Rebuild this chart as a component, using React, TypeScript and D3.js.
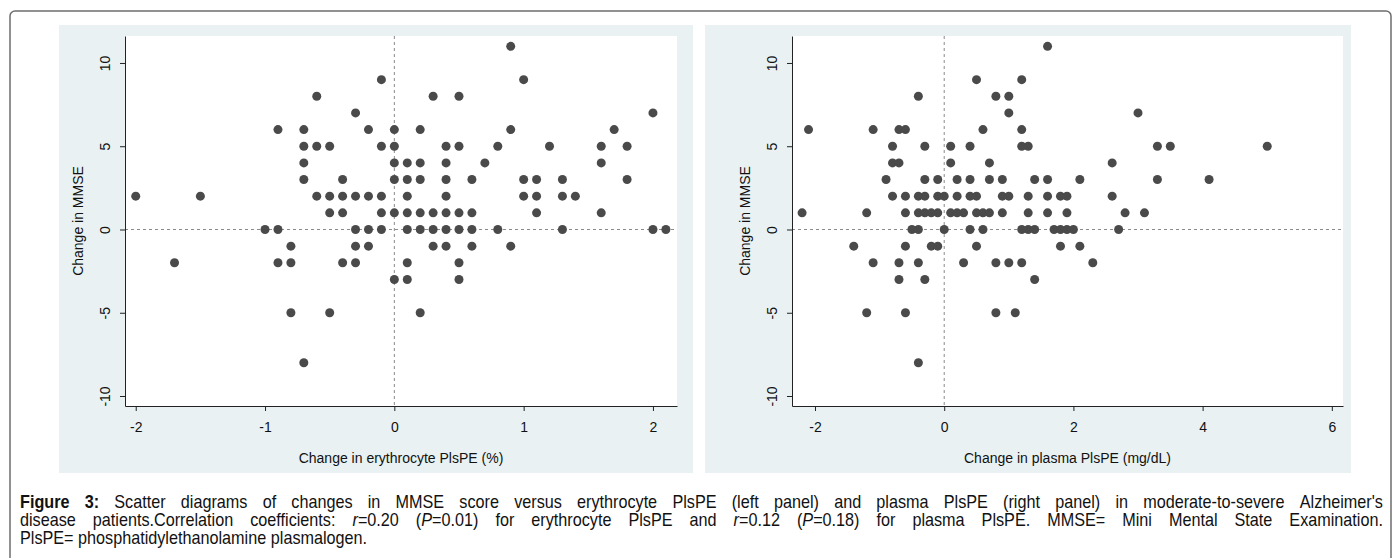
import React, { useEffect, useRef } from "react";
import * as d3 from "d3";

// tick values
const mmseTicks = [-10, -5, 0, 5, 10];
const erythroTicks = [-2, -1, 0, 1, 2];
const plasmaTicks = [-2, 0, 2, 4, 6];

// axis titles
const mmseTitle = "Change in MMSE";
const erythroTitle = "Change in erythrocyte PlsPE (%)";
const plasmaTitle = "Change in plasma PlsPE (mg/dL)";

// [change in erythrocyte PlsPE (%), change in MMSE]
const erythroPoints: [number, number][] = [
  [0.9, 11],
  [-0.1, 9], [1.0, 9],
  [-0.6, 8], [0.3, 8], [0.5, 8],
  [-0.3, 7], [2.0, 7],
  [-0.9, 6], [-0.7, 6], [-0.2, 6], [0.0, 6], [0.2, 6], [0.9, 6], [1.7, 6],
  [-0.7, 5], [-0.6, 5], [-0.5, 5], [-0.1, 5], [0.0, 5], [0.4, 5], [0.5, 5], [0.8, 5], [1.2, 5], [1.6, 5], [1.8, 5],
  [-0.7, 4], [0.0, 4], [0.1, 4], [0.2, 4], [0.4, 4], [0.7, 4], [1.6, 4],
  [-0.7, 3], [-0.4, 3], [0.0, 3], [0.1, 3], [0.2, 3], [0.4, 3], [0.6, 3], [1.0, 3], [1.1, 3], [1.3, 3], [1.8, 3],
  [-2.0, 2], [-1.5, 2], [-0.6, 2], [-0.5, 2], [-0.4, 2], [-0.3, 2], [-0.2, 2], [-0.1, 2], [0.1, 2], [0.4, 2], [1.0, 2], [1.1, 2], [1.3, 2], [1.4, 2],
  [-0.5, 1], [-0.4, 1], [-0.1, 1], [0.0, 1], [0.1, 1], [0.2, 1], [0.3, 1], [0.4, 1], [0.5, 1], [0.6, 1], [1.1, 1], [1.6, 1],
  [-1.0, 0], [-0.9, 0], [-0.3, 0], [-0.2, 0], [-0.1, 0], [0.1, 0], [0.2, 0], [0.3, 0], [0.4, 0], [0.5, 0], [0.6, 0], [0.8, 0], [1.3, 0], [2.0, 0], [2.1, 0],
  [-0.8, -1], [-0.3, -1], [-0.2, -1], [0.3, -1], [0.4, -1], [0.6, -1], [0.9, -1],
  [-1.7, -2], [-0.9, -2], [-0.8, -2], [-0.4, -2], [-0.3, -2], [0.1, -2], [0.5, -2],
  [0.0, -3], [0.1, -3], [0.5, -3],
  [-0.8, -5], [-0.5, -5], [0.2, -5],
  [-0.7, -8],
];

// [change in plasma PlsPE (mg/dL), change in MMSE]
const plasmaPoints: [number, number][] = [
  [1.6, 11],
  [0.5, 9], [1.2, 9],
  [-0.4, 8], [0.8, 8], [1.0, 8],
  [1.0, 7], [3.0, 7],
  [-2.1, 6], [-1.1, 6], [-0.7, 6], [-0.6, 6], [0.6, 6], [1.2, 6],
  [-0.8, 5], [-0.3, 5], [0.1, 5], [0.4, 5], [1.2, 5], [1.3, 5], [3.3, 5], [3.5, 5], [5.0, 5],
  [-0.8, 4], [-0.7, 4], [0.1, 4], [0.7, 4], [2.6, 4],
  [-0.9, 3], [-0.3, 3], [-0.1, 3], [0.2, 3], [0.4, 3], [0.7, 3], [0.9, 3], [1.4, 3], [1.6, 3], [2.1, 3], [3.3, 3], [4.1, 3],
  [-0.8, 2], [-0.6, 2], [-0.4, 2], [-0.3, 2], [-0.1, 2], [0.0, 2], [0.2, 2], [0.4, 2], [0.5, 2], [0.9, 2], [1.0, 2], [1.3, 2], [1.6, 2], [1.8, 2], [1.9, 2], [2.6, 2],
  [-2.2, 1], [-1.2, 1], [-0.6, 1], [-0.4, 1], [-0.3, 1], [-0.2, 1], [-0.1, 1], [0.1, 1], [0.2, 1], [0.3, 1], [0.5, 1], [0.6, 1], [0.7, 1], [0.9, 1], [1.3, 1], [1.6, 1], [1.9, 1], [2.8, 1], [3.1, 1],
  [-0.5, 0], [-0.4, 0], [0.0, 0], [0.4, 0], [0.6, 0], [1.2, 0], [1.3, 0], [1.4, 0], [1.7, 0], [1.8, 0], [1.9, 0], [2.0, 0], [2.7, 0],
  [-1.4, -1], [-0.6, -1], [-0.2, -1], [-0.1, -1], [0.5, -1], [1.8, -1], [2.1, -1],
  [-1.1, -2], [-0.7, -2], [-0.4, -2], [0.3, -2], [0.8, -2], [1.0, -2], [1.2, -2], [2.3, -2],
  [-0.7, -3], [-0.3, -3], [1.4, -3],
  [-1.2, -5], [-0.6, -5], [0.8, -5], [1.1, -5],
  [-0.4, -8],
];

// caption: **bold**, _italic_
const captionLines = [
  "**Figure** **3:** Scatter diagrams of changes in MMSE score versus erythrocyte PlsPE (left panel) and plasma PlsPE (right panel) in moderate-to-severe Alzheimer's",
  "disease patients.Correlation coefficients: _r_=0.20 (_P_=0.01) for erythrocyte PlsPE and _r_=0.12 (_P_=0.18) for plasma PlsPE. MMSE= Mini Mental State Examination.",
  "PlsPE= phosphatidylethanolamine plasmalogen.",
];

const W = 1398, H = 558;
const axisFont = "'Liberation Sans', Arial, Helvetica, sans-serif";
const captionFont = "'Liberation Sans', Arial, sans-serif";
const narrow = 0.9; // caption set in a slightly condensed face

function App() {
  const ref = useRef<SVGSVGElement>(null);

  useEffect(() => {
    const svg = d3.select(ref.current);
    svg.selectAll("*").remove();

    // outer frame
    svg.append("rect")
      .attr("x", 10).attr("y", 11)
      .attr("width", 1381).attr("height", 600)
      .attr("rx", 5)
      .attr("fill", "white")
      .attr("stroke", "#6e6e6e")
      .attr("stroke-width", 1.5);

    const panels = [
      { bg: [59, 693], plot: [125, 677], xDomain: [-2.083, 2.186], xTicks: erythroTicks, title: erythroTitle, points: erythroPoints },
      { bg: [705, 1351], plot: [792, 1343], xDomain: [-2.356, 6.173], xTicks: plasmaTicks, title: plasmaTitle, points: plasmaPoints },
    ];
    const bgTop = 25, bgBottom = 473, plotTop = 36, plotBottom = 406;

    panels.forEach((p) => {
      const g = svg.append("g");

      // graph region + plot region
      g.append("rect")
        .attr("x", p.bg[0]).attr("y", bgTop)
        .attr("width", p.bg[1] - p.bg[0]).attr("height", bgBottom - bgTop)
        .attr("fill", "#e9f1f3");
      g.append("rect")
        .attr("x", p.plot[0]).attr("y", plotTop)
        .attr("width", p.plot[1] - p.plot[0]).attr("height", plotBottom - plotTop)
        .attr("fill", "white");

      const x = d3.scaleLinear().domain(p.xDomain).range(p.plot);
      const y = d3.scaleLinear().domain([-10.6, 11.62]).range([plotBottom, plotTop]);

      // reference lines at zero
      g.append("line")
        .attr("x1", p.plot[0]).attr("x2", p.plot[1])
        .attr("y1", y(0)).attr("y2", y(0))
        .attr("stroke", "#8a8a8a").attr("stroke-dasharray", "3,3");
      g.append("line")
        .attr("x1", x(0)).attr("x2", x(0))
        .attr("y1", plotTop).attr("y2", plotBottom)
        .attr("stroke", "#8a8a8a").attr("stroke-dasharray", "3,3");

      // points
      g.selectAll("circle")
        .data(p.points)
        .join("circle")
        .attr("cx", (d) => x(d[0]))
        .attr("cy", (d) => y(d[1]))
        .attr("r", 4.5)
        .attr("fill", "#4a4a4a");

      // x axis
      const xg = g.append("g")
        .attr("transform", `translate(0,${plotBottom})`)
        .call(d3.axisBottom(x).tickValues(p.xTicks).tickSize(5).tickSizeOuter(0).tickFormat(d3.format("d")));
      xg.select(".domain").attr("stroke", "#222");
      xg.selectAll(".tick line").attr("stroke", "#222");
      xg.selectAll(".tick text")
        .attr("y", 26).attr("dy", 0)
        .attr("font-family", axisFont).attr("font-size", 14).attr("fill", "#111")
        .text((d: any) => String(d).replace("−", "-"));

      // y axis
      const yg = g.append("g")
        .attr("transform", `translate(${p.plot[0]},0)`)
        .call(d3.axisLeft(y).tickValues(mmseTicks).tickSize(5).tickSizeOuter(0).tickFormat(d3.format("d")));
      yg.select(".domain").attr("stroke", "#222");
      yg.selectAll(".tick line").attr("stroke", "#222");
      yg.selectAll(".tick text")
        .attr("x", 0).attr("dy", 0)
        .attr("transform", "translate(-15,0) rotate(-90)")
        .attr("text-anchor", "middle")
        .attr("font-family", axisFont).attr("font-size", 14).attr("fill", "#111")
        .text((d: any) => String(d).replace("−", "-"));

      // axis titles
      g.append("text")
        .attr("x", (p.plot[0] + p.plot[1]) / 2)
        .attr("y", 463)
        .attr("text-anchor", "middle")
        .attr("font-family", axisFont).attr("font-size", 14).attr("fill", "#111")
        .text(p.title);
      g.append("text")
        .attr("transform", `translate(${p.plot[0] - 42},${(plotTop + plotBottom) / 2}) rotate(-90)`)
        .attr("text-anchor", "middle")
        .attr("font-family", axisFont).attr("font-size", 14).attr("fill", "#111")
        .text(mmseTitle);
    });

    // caption, justified word by word
    const capLeft = 20, capRight = 1383, capTop = 508, lineH = 18;
    const cap = svg.append("g")
      .attr("font-family", captionFont).attr("font-size", 18).attr("fill", "#111");
    captionLines.forEach((line, li) => {
      const words = line.split(" ");
      const yy = capTop + li * lineH;
      const nodes = words.map((w) => {
        const t = cap.append("text");
        w.split(/(\*\*[^*]+\*\*|_[^_]+_)/).filter((s) => s).forEach((seg) => {
          const ts = t.append("tspan");
          if (seg.startsWith("**")) ts.attr("font-weight", "bold").text(seg.slice(2, -2));
          else if (seg.startsWith("_")) ts.attr("font-style", "italic").text(seg.slice(1, -1));
          else ts.text(seg);
        });
        return t;
      });
      const widths = nodes.map((n) => (n.node() as SVGTextElement).getComputedTextLength() * narrow);
      const last = li === captionLines.length - 1;
      const gap = last ? 4.5 : (capRight - capLeft - d3.sum(widths)) / (words.length - 1);
      let cx = capLeft;
      nodes.forEach((n, i) => {
        n.attr("transform", `translate(${cx},${yy}) scale(${narrow},1)`);
        cx += widths[i] + gap;
      });
    });
  }, []);

  return (
    <svg
      ref={ref}
      width={W}
      height={H}
      style={{ position: "absolute", left: 0, top: 0, background: "white" }}
    />
  );
}

export default App;
